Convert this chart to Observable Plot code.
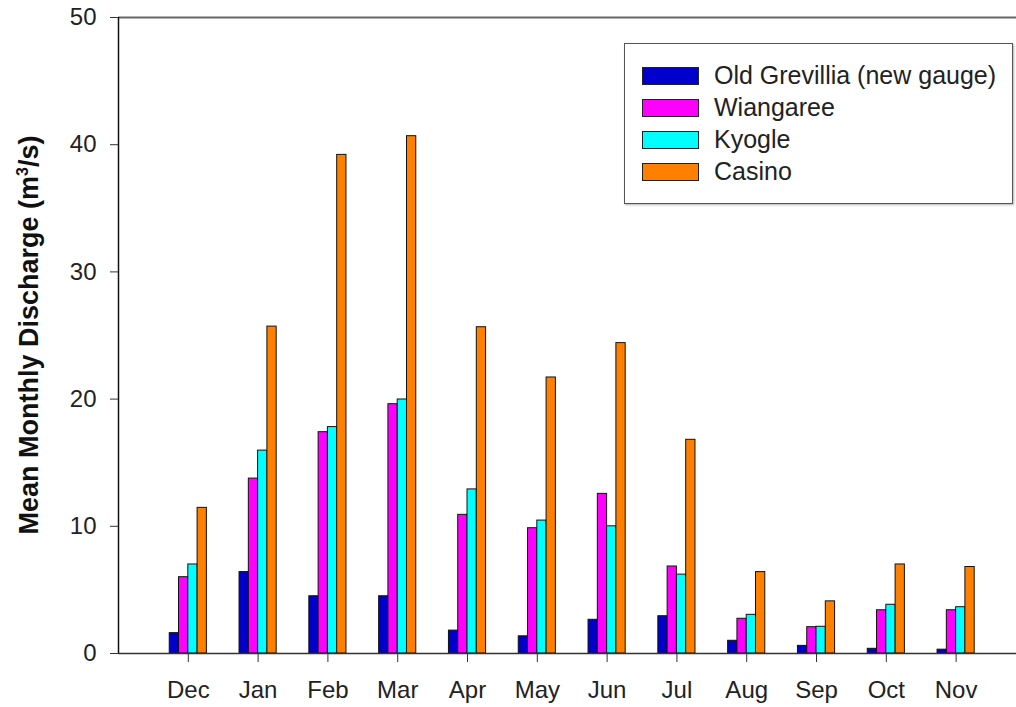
<!DOCTYPE html>
<html>
<head>
<meta charset="utf-8">
<script src="https://cdn.jsdelivr.net/npm/d3@7"></script>
<script src="https://cdn.jsdelivr.net/npm/@observablehq/plot@0.6"></script>
<style>
  html, body { margin: 0; padding: 0; background: #fff; overflow: hidden; }
  #wrap { position: relative; width: 1016px; height: 707px; }
  #ylabel {
    position: absolute; left: 29px; top: 335px;
    transform: translate(-50%, -50%) rotate(-90deg);
    white-space: nowrap;
    font-family: "Liberation Sans", Arial, sans-serif; font-weight: bold;
    font-size: 27px; color: #111;
  }
  #ylabel sup { font-size: 16px; vertical-align: 10px; line-height: 0; }
  #legend {
    position: absolute; left: 624px; top: 43px; width: 387px; height: 159px;
    border: 1.5px solid #555; box-shadow: 1px 1px 2px rgba(0,0,0,0.3);
    background: #fff; font-family: "Liberation Sans", Arial, sans-serif;
    font-size: 25px; color: #222;
  }
  .item { position: absolute; left: 17px; height: 19px; display: flex; align-items: center; }
  .sw { width: 57px; height: 18px; border: 1px solid #222; box-sizing: border-box; margin-right: 15px; }
</style>
</head>
<body>
<div id="wrap">
  <div id="chart"></div>
  <div id="ylabel">Mean Monthly Discharge (m<sup>3</sup>/s)</div>
  <div id="legend"></div>
</div>
<script>
const months = ["Dec","Jan","Feb","Mar","Apr","May","Jun","Jul","Aug","Sep","Oct","Nov"];
const seriesNames = ["Old Grevillia (new gauge)","Wiangaree","Kyogle","Casino"];
const oldGrevillia = [1.6, 6.4, 4.5, 4.5, 1.8, 1.35, 2.65, 2.93, 1.0, 0.6, 0.37, 0.3];
const wiangaree   = [6.0, 13.75, 17.4, 19.6, 10.9, 9.85, 12.55, 6.84, 2.73, 2.07, 3.4, 3.4];
const kyogle      = [7.0, 15.95, 17.8, 19.97, 12.9, 10.45, 10.0, 6.2, 3.04, 2.1, 3.83, 3.64];
const casino      = [11.45, 25.7, 39.2, 40.67, 25.65, 21.7, 24.4, 16.8, 6.4, 4.1, 7.0, 6.8];
const seriesColors = ["#0000cc","#ff00ff","#00ffff","#ff8000"];
const yTicks = [0, 10, 20, 30, 40, 50];

const allValues = [oldGrevillia, wiangaree, kyogle, casino];
const rows = months.flatMap((m, i) => allValues.map((vals, s) => ({
  month: i + 1, s, series: seriesNames[s], value: vals[i]
})));
const w = 0.133; // bar width in month units

const chart = Plot.plot({
  width: 1016, height: 707,
  marginTop: 17, marginBottom: 54, marginLeft: 118, marginRight: 0,
  style: { fontFamily: "Liberation Sans, Arial, sans-serif", fontSize: "24px", color: "#222", background: "#fff" },
  x: { type: "linear", domain: [0, 12.865] },
  y: { domain: [0, 50] },
  color: { domain: seriesNames, range: seriesColors },
  marks: [
    Plot.rect(rows, {
      x1: d => d.month + (d.s - 2) * w,
      x2: d => d.month + (d.s - 1) * w,
      y1: 0, y2: "value",
      fill: "series", stroke: "#111", strokeWidth: 1
    }),
    Plot.ruleY([50], { stroke: "#666", strokeWidth: 2 }),
    Plot.ruleY([0], { stroke: "#333", strokeWidth: 1.5 }),
    Plot.ruleX([0], { stroke: "#111", strokeWidth: 1.5 }),
    Plot.axisY({ ticks: yTicks, tickSize: 8, tickPadding: 14, label: null, stroke: "#333" }),
    Plot.axisX({ ticks: months.map((m, i) => i + 1), tickFormat: i => months[i - 1], tickSize: 9, tickPadding: 18, label: null, stroke: "#333" })
  ]
});
document.getElementById("chart").appendChild(chart);

const legend = document.getElementById("legend");
seriesNames.forEach((name, i) => {
  const item = document.createElement("div");
  item.className = "item";
  item.style.top = (22 + i * 32) + "px";
  const sw = document.createElement("div");
  sw.className = "sw";
  sw.style.background = seriesColors[i];
  const t = document.createElement("span");
  t.textContent = name;
  item.appendChild(sw);
  item.appendChild(t);
  legend.appendChild(item);
});
</script>
</body>
</html>
